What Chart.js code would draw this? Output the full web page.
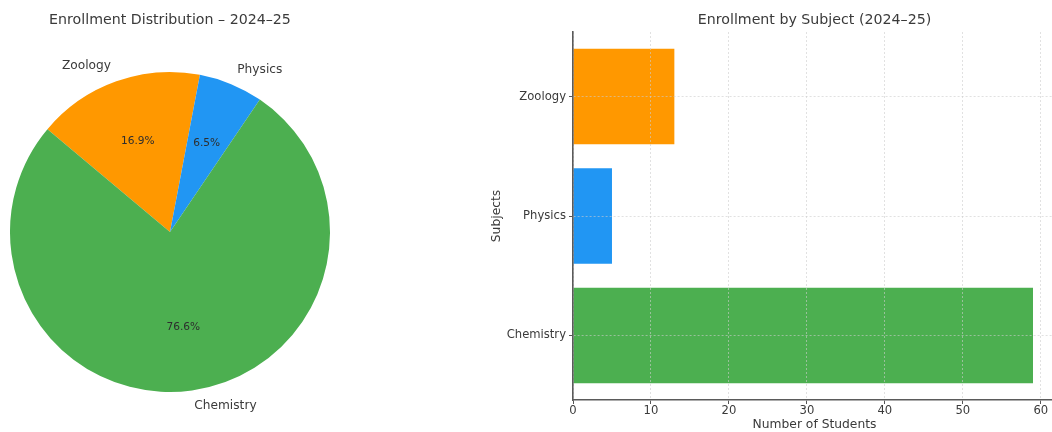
<!DOCTYPE html>
<html>
<head>
<meta charset="utf-8">
<script src="https://cdn.jsdelivr.net/npm/chart.js@4.4.1/dist/chart.umd.min.js"></script>
<style>
html,body{margin:0;padding:0;width:1052px;height:432px;overflow:hidden;background:#fff;}
canvas{position:absolute;top:0;}
#pie{left:0;}
#bar{left:480px;}
</style>
</head>
<body>
<canvas id="pie" width="345" height="432"></canvas>
<canvas id="bar" width="590" height="432"></canvas>
<script>
const subjects = ['Chemistry', 'Physics', 'Zoology'];
const students = [59, 5, 13];
const colors = ['#4CAF50', '#2196F3', '#FF9800'];
const xTicks = [0, 10, 20, 30, 40, 50, 60];
const pieTitle = 'Enrollment Distribution \u2013 2024\u201325';
const barTitle = 'Enrollment by Subject (2024\u201325)';
const xAxisTitle = 'Number of Students';
const yAxisTitle = 'Subjects';

const FONT = "'DejaVu Sans', sans-serif";
const TEXT = '#3a3a3a';

// Pie drawn clockwise starting from Zoology
const pieOrder = [2, 1, 0];
const pieLabels = pieOrder.map(i => subjects[i]);
const pieValues = pieOrder.map(i => students[i]);
const pieColors = pieOrder.map(i => colors[i]);
const total = students.reduce((a, b) => a + b, 0);

const pieLabelPlugin = {
  id: 'pieLabels',
  afterDraw(chart) {
    const ctx = chart.ctx;
    const meta = chart.getDatasetMeta(0);
    ctx.save();
    meta.data.forEach((arc, i) => {
      const p = arc.getProps(['x', 'y', 'startAngle', 'endAngle', 'outerRadius'], true);
      const mid = (p.startAngle + p.endAngle) / 2;
      const c = Math.cos(mid), s = Math.sin(mid);
      ctx.font = '12.2px ' + FONT;
      ctx.fillStyle = TEXT;
      ctx.textBaseline = 'middle';
      ctx.textAlign = c >= 0 ? 'left' : 'right';
      ctx.fillText(pieLabels[i], p.x + 1.1 * p.outerRadius * c, p.y + 1.1 * p.outerRadius * s);
      ctx.font = '10.6px ' + FONT;
      ctx.textAlign = 'center';
      ctx.fillStyle = '#2e2e2e';
      const pct = (pieValues[i] / total * 100).toFixed(1) + '%';
      ctx.fillText(pct, p.x + 0.6 * p.outerRadius * c, p.y + 0.6 * p.outerRadius * s);
    });
    const arc0 = meta.data[0];
    ctx.font = '14.2px ' + FONT;
    ctx.fillStyle = TEXT;
    ctx.textAlign = 'center';
    ctx.textBaseline = 'middle';
    ctx.fillText(pieTitle, arc0.x, 20);
    ctx.restore();
  }
};

new Chart(document.getElementById('pie'), {
  type: 'pie',
  data: {
    labels: pieLabels,
    datasets: [{
      data: pieValues,
      backgroundColor: pieColors,
      borderWidth: 0
    }]
  },
  options: {
    responsive: false,
    animation: false,
    rotation: -50,
    layout: { padding: { left: 10, right: 15, top: 72, bottom: 40 } },
    plugins: { legend: { display: false }, tooltip: { enabled: false } }
  },
  plugins: [pieLabelPlugin]
});

const barTitlePlugin = {
  id: 'barTitle',
  afterDraw(chart) {
    const ctx = chart.ctx;
    const a = chart.chartArea;
    ctx.save();
    ctx.font = '14.2px ' + FONT;
    ctx.fillStyle = TEXT;
    ctx.textAlign = 'center';
    ctx.textBaseline = 'middle';
    ctx.fillText(barTitle, (a.left + a.right) / 2, 20);
    ctx.restore();
  }
};

const gridOpts = { color: 'rgba(205,205,205,0.75)', lineWidth: 0.8, z: 1, offset: false, tickLength: 4, tickColor: '#555', tickWidth: 1 };
const borderOpts = { display: true, color: '#5a5a5a', width: 1.6, dash: [2, 2], z: 2 };

new Chart(document.getElementById('bar'), {
  type: 'bar',
  data: {
    datasets: [{
      data: students.map((v, i) => ({ x: v, y: i })),
      backgroundColor: colors,
      borderWidth: 0,
      barPercentage: 0.8,
      categoryPercentage: 1.0
    }]
  },
  options: {
    responsive: false,
    animation: false,
    indexAxis: 'y',
    layout: { padding: { left: 0, right: 14, top: 32, bottom: 0 } },
    plugins: { legend: { display: false }, tooltip: { enabled: false } },
    scales: {
      x: {
        type: 'linear',
        min: 0,
        max: 61.95,
        offset: false,
        afterFit(scale) { scale.height = 32; },
        afterBuildTicks(scale) { scale.ticks = xTicks.map(v => ({ value: v })); },
        ticks: { font: { family: FONT, size: 11.6 }, color: TEXT, padding: 0, maxRotation: 0, autoSkip: false, z: 2 },
        grid: gridOpts,
        border: borderOpts,
        title: { display: true, text: xAxisTitle, font: { family: FONT, size: 12.3 }, color: TEXT, padding: { top: 0, bottom: 0 } }
      },
      y: {
        type: 'linear',
        min: -0.54,
        max: 2.54,
        offset: false,
        afterFit(scale) { scale.width = 93; },
        ticks: {
          stepSize: 1,
          includeBounds: false,
          autoSkip: false,
          font: { family: FONT, size: 11.6 },
          color: TEXT,
          padding: 3,
          z: 2,
          callback: v => subjects[v] !== undefined ? subjects[v] : ''
        },
        grid: gridOpts,
        border: borderOpts,
        title: { display: true, text: yAxisTitle, font: { family: FONT, size: 12.3 }, color: TEXT, padding: { top: 9, bottom: 0 } }
      }
    }
  },
  plugins: [barTitlePlugin]
});
</script>
</body>
</html>
